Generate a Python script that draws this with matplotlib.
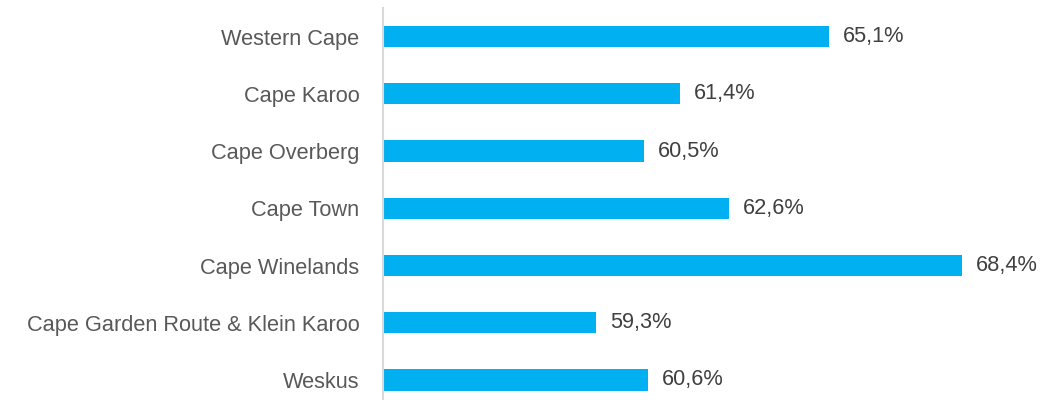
import matplotlib
matplotlib.use("Agg")
import matplotlib.pyplot as plt

# regions, top to bottom
regions = ["Western Cape", "Cape Karoo", "Cape Overberg", "Cape Town",
           "Cape Winelands", "Cape Garden Route & Klein Karoo", "Weskus"]
values = [65.1, 61.4, 60.5, 62.6, 68.4, 59.3, 60.6]

plt.rcParams['font.family'] = ['Liberation Sans', 'DejaVu Sans']

fig = plt.figure(figsize=(10.63, 4.0), dpi=100)
ax = fig.add_axes([383/1063, -0.0215, 643/1063, 1.0015])

left = 54
ypos = list(range(len(regions)))[::-1]
ax.barh(ypos, [v - left for v in values], left=left, height=0.37,
        color='#00B0F0')

for y, v in zip(ypos, values):
    ax.annotate("{:.1f}%".format(v).replace('.', ','), (v, y),
                xytext=(10, 0), textcoords='offset points',
                va='center', ha='left', fontsize=15.7, color='#404040')

ax.set_xlim(left, 70)
ax.set_ylim(-0.5, 6.5)
ax.set_yticks(ypos)
ax.set_yticklabels(regions, fontsize=15.7, color='#595959')
ax.tick_params(axis='y', length=0, pad=17)
ax.set_xticks([])
for s in ['top', 'right', 'bottom']:
    ax.spines[s].set_visible(False)
ax.spines['left'].set_color('#D9D9D9')
ax.spines['left'].set_linewidth(1.5)

fig.savefig("out.png", dpi=100)
